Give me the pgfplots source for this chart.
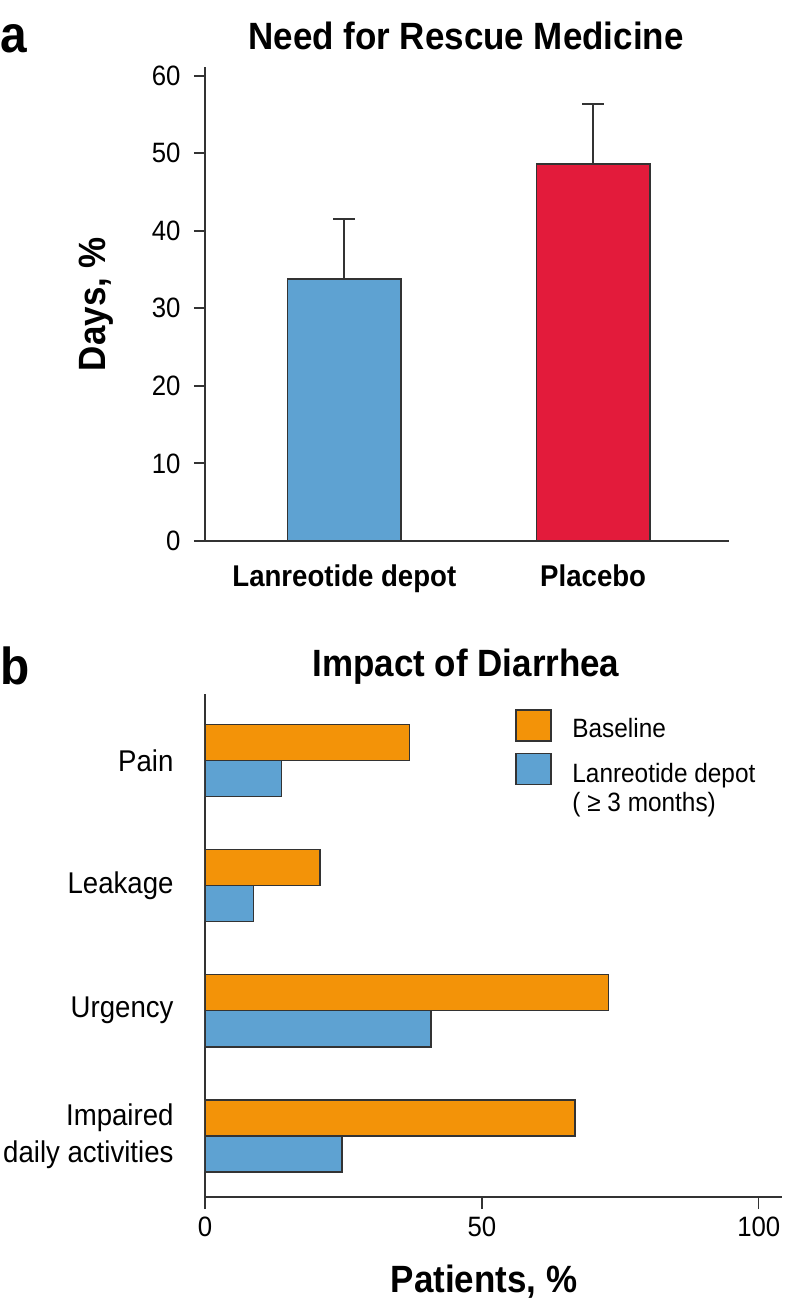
\documentclass[border=0pt]{standalone}
\usepackage{fontspec}
\setmainfont{Liberation Sans}[FakeStretch=0.92]
\usepackage{pgfplots}
\pgfplotsset{compat=1.18}
\definecolor{cblue}{HTML}{5EA2D2}
\definecolor{cred}{HTML}{E31B3B}
\definecolor{corange}{HTML}{F39308}
\definecolor{cline}{HTML}{333333}
\begin{document}
\begin{tikzpicture}[x=1pt,y=1pt]
\useasboundingbox (0,0) rectangle (786,1304);
% ---------- panel a ----------
\node[anchor=base west, inner sep=0pt, font=\fontsize{52}{54}\selectfont\bfseries] at (0,1251) {a};
\node[anchor=base, inner sep=0pt, font=\fontsize{38}{42}\selectfont\bfseries] at (466,1254) {Need for Rescue Medicine};
\node[rotate=90, anchor=center, inner sep=0pt, font=\fontsize{38}{42}\selectfont\bfseries] at (96,1000) {Days, \%};
\begin{axis}[
  at={(205pt,763pt)}, anchor=south west,
  scale only axis, width=523.5pt, height=474pt,
  xmin=-0.56, xmax=1.544, ymin=0, ymax=61.1,
  axis x line*=bottom, axis y line*=left,
  axis line style={cline, line width=2pt},
  ytick={0,10,20,30,40,50,60},
  xtick={0,1}, xticklabels={Lanreotide depot, Placebo},
  x tick style={draw=none}, y tick style={cline, line width=2pt},
  tick align=outside, major tick length=11pt,
  yticklabel style={font=\fontsize{28}{32}\selectfont, xshift=-10pt},
  xticklabel style={font=\fontsize{30}{34}\selectfont\bfseries, yshift=-9pt},
  /pgf/number format/assume math mode=true,
  ybar, bar width=0.456,
]
\addplot[fill=cblue, draw=cline, line width=1.5pt, bar shift=0,
  error bars/.cd, y dir=plus, y explicit,
  error bar style={line width=2pt, cline},
  error mark options={rotate=90, mark size=11pt, line width=2pt, cline}]
  coordinates {(0,33.8) +- (0,7.7)};
\addplot[fill=cred, draw=cline, line width=1.5pt, bar shift=0,
  error bars/.cd, y dir=plus, y explicit,
  error bar style={line width=2pt, cline},
  error mark options={rotate=90, mark size=11pt, line width=2pt, cline}]
  coordinates {(1,48.6) +- (0,7.7)};
\end{axis}
% ---------- panel b ----------
\node[anchor=base west, inner sep=0pt, font=\fontsize{52}{54}\selectfont\bfseries] at (0,619) {b};
\node[anchor=base, inner sep=0pt, font=\fontsize{38}{42}\selectfont\bfseries] at (466,627) {Impact of Diarrhea};
\node[anchor=base, inner sep=0pt, font=\fontsize{38}{42}\selectfont\bfseries] at (484,12) {Patients, \%};
\begin{axis}[
  at={(205pt,107pt)}, anchor=south west,
  scale only axis, width=577pt, height=503pt,
  xmin=0, xmax=104.2, ymin=-0.489, ymax=3.532,
  axis x line*=bottom, axis y line*=left,
  axis line style={cline, line width=2pt},
  xtick={0,50,100}, ytick={0,1,2,3},
  yticklabels={Impaired\\daily activities, Urgency, Leakage, Pain},
  y tick style={draw=none}, x tick style={cline, line width=1.5pt},
  tick align=outside, major tick length=12pt,
  xticklabel style={font=\fontsize{28}{32}\selectfont, yshift=-4pt},
  yticklabel style={align=right, font=\fontsize{30}{37}\selectfont, xshift=-16pt},
  /pgf/number format/assume math mode=true,
  xbar, bar width=0.288,
  legend style={at={(axis cs:56,3.412)}, anchor=north west, draw=none, fill=none,
    inner sep=0pt, outer sep=0pt, row sep=11pt, column sep=18.8pt,
    font=\fontsize{26.5}{29}\selectfont, cells={align=left}},
  legend cell align=left,
]
\addplot[fill=corange, draw=cline, line width=1.5pt, bar shift=0.144,
  legend image code/.code={\draw[fill=corange, draw=cline, line width=1.5pt] (0pt,-12pt) rectangle (35pt,19pt);}]
  coordinates {(66.8,0) (72.9,1) (20.8,2) (36.9,3)};
\addlegendentry{Baseline}
\addplot[fill=cblue, draw=cline, line width=1.5pt, bar shift=-0.144,
  legend image code/.code={\draw[fill=cblue, draw=cline, line width=1.5pt] (0pt,3.5pt) rectangle (35pt,34.5pt);}]
  coordinates {(24.7,0) (40.8,1) (8.8,2) (13.8,3)};
\addlegendentry{Lanreotide depot\\( ≥ 3 months)}
\end{axis}
\end{tikzpicture}
\end{document}
